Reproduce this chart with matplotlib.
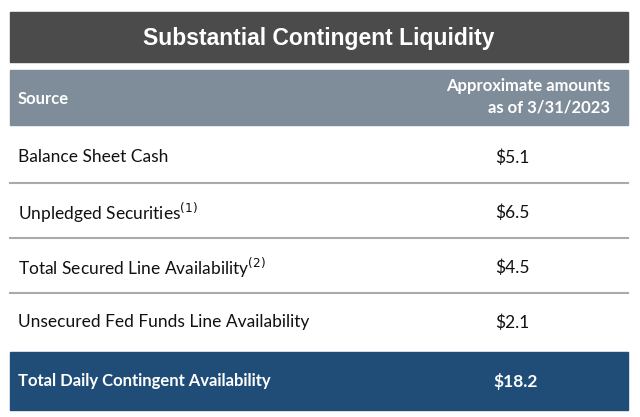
import matplotlib.pyplot as plt
from matplotlib.patches import Rectangle

title = "Substantial Contingent Liquidity"
header = ["Source", "Approximate amounts\nas of 3/31/2023"]
sources = ["Balance Sheet Cash", "Unpledged Securities$^{(1)}$",
           "Total Secured Line Availability$^{(2)}$",
           "Unsecured Fed Funds Line Availability"]
amounts = ["$5.1", "$6.5", "$4.5", "$2.1"]
total_label = "Total Daily Contingent Availability"
total_value = "$18.2"

fig = plt.figure(figsize=(6.4, 4.17), dpi=100)
ax = fig.add_axes([0, 0, 1, 1])
ax.set_xlim(0, 640)
ax.set_ylim(417, 0)
ax.axis("off")

# title bar
ax.add_patch(Rectangle((10, 12), 618, 50, color="#4b4b4b"))
ax.text(319, 38, title, color="white", fontsize=16.5, fontweight="bold",
        family="Liberation Sans", ha="center", va="center")

# header
ax.add_patch(Rectangle((10, 70), 618, 55, color="#7f8d9a"))
ax.text(18, 99, header[0], color="white", fontsize=12, fontweight="bold",
        family="Lato", va="center")
ax.text(610, 97, header[1], color="white", fontsize=12, fontweight="bold",
        family="Lato", ha="right", va="center", linespacing=1.4)

row_h = 55
y0 = 128
for i, (s, a) in enumerate(zip(sources, amounts)):
    yc = y0 + row_h * i + row_h / 2
    ax.text(18, yc + 2, s, fontsize=12.5, family="Lato", va="center", color="#111111")
    ax.text(512, yc + 2, a.replace("$", r"\$"), fontsize=12.5, family="Lato",
            ha="center", va="center", color="#111111")
    if i < len(sources) - 1:
        ax.plot([10, 628], [y0 + row_h * (i + 1)] * 2, color="#aaaaaa", lw=1.5)

# total row
ax.add_patch(Rectangle((10, 352), 618, 58, color="#1f4d78"))
ax.text(18, 381, total_label, color="white", fontsize=12, fontweight="bold",
        family="Lato", va="center")
ax.text(516, 381, total_value.replace("$", r"\$"), color="white", fontsize=12.5,
        fontweight="bold", family="Lato", ha="center", va="center")

fig.savefig("out.png", dpi=100)
